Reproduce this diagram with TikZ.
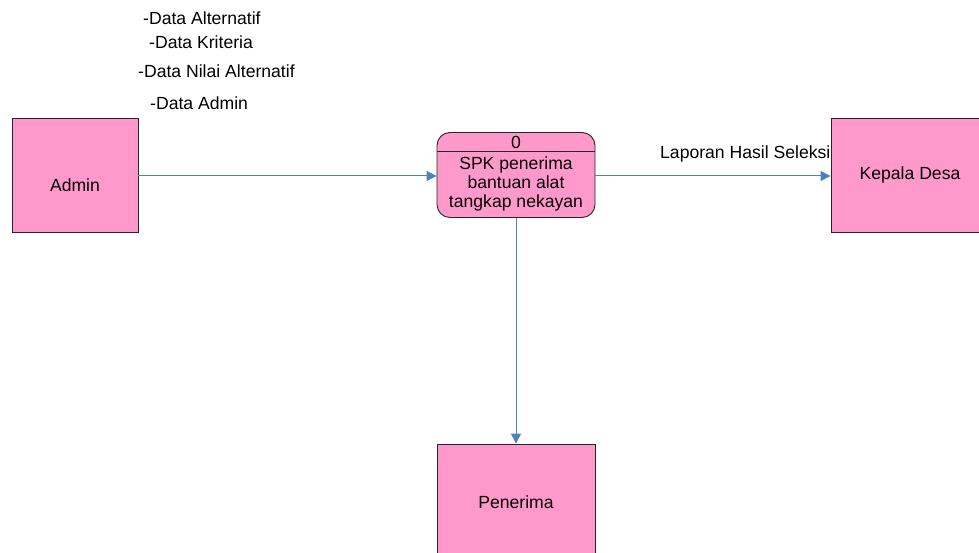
\documentclass[tikz,border=0pt]{standalone}
\usepackage{fontspec}
\setmainfont{Liberation Sans}
\usetikzlibrary{arrows.meta}
\definecolor{entpink}{HTML}{FF99CC}
\definecolor{flowblue}{HTML}{4F81BD}
\tikzset{
  entity/.style={draw=black!85, line width=0.8pt, fill=entpink, inner sep=0pt},
  procbox/.style={draw=black!85, line width=0.9pt, fill=entpink, rounded corners=13pt,
    minimum width=158pt, minimum height=85pt, inner sep=0pt},
  txt/.style={font=\fontsize{17.6}{19}\selectfont, inner sep=0pt},
  flow/.style={draw=flowblue, line width=1pt, -{Triangle[length=10pt,width=10pt]}},
}
\begin{document}
\begin{tikzpicture}[x=1pt, y=-1pt]
  \useasboundingbox (0,0) rectangle (979,553);
  \clip (0,0) rectangle (979,553);

  % external entities
  \node[entity, minimum width=126pt, minimum height=114pt] (admin) at (75,175) {};
  \node[txt] at (admin.center) [yshift=-10pt] {Admin};
  \node[entity, minimum width=160pt, minimum height=114pt] (kepala) at (911,175) {};
  \node[txt] at (910,175) {Kepala Desa};
  \node[entity, minimum width=158pt, minimum height=120pt] (penerima) at (516,504) {};
  \node[txt] at (516,502) {Penerima};

  % process
  \node[procbox] (proc) at (516,175) {};
  \draw[black!85, line width=1pt] (proc.west |- 0,152) -- (proc.east |- 0,152);
  \node[txt] (pnum) at (516,142) {0};
  \node[txt, align=center] (pname) at (516,184) {SPK penerima\\bantuan alat\\tangkap nekayan};

  % data flows
  \draw[flow] (admin.east |- 0,176) -- (proc.west |- 0,176);
  \draw[flow] (proc.east |- 0,176) -- (kepala.west |- 0,176);
  \draw[flow] (proc.south) -- (penerima.north);

  % flow labels
  \node[txt, anchor=base west] (l1) at (143,25) {-Data Alternatif};
  \node[txt, anchor=base west] (l2) at (149,49) {-Data Kriteria};
  \node[txt, anchor=base west] (l3) at (138,78) {-Data Nilai Alternatif};
  \node[txt, anchor=base west] (l4) at (150,110) {-Data Admin};
  \node[txt, anchor=base west] (l5) at (660,159) {Laporan Hasil Seleksi};
\end{tikzpicture}
\end{document}
